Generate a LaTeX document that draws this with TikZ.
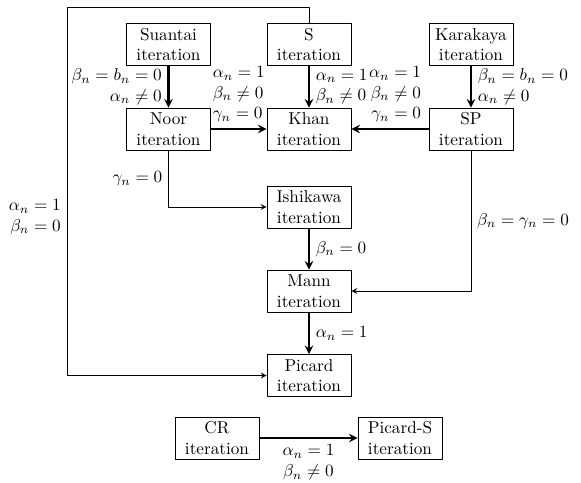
\documentclass[tikz,border=0pt]{standalone}
\usepackage{amsmath}
\begin{document}
\begin{tikzpicture}[x=0.582pt, y=-0.582pt, line join=round, >=stealth,
	iter/.style={draw, align=center, minimum width=49pt, minimum height=24.5pt, inner sep=2pt},
	strong/.style={->, line width=1.2pt},
	weak/.style={->, line width=0.5pt}]
	\useasboundingbox (0,0) rectangle (581,482);
	\node[iter] (suantai)  at (168.5,44.5) {Suantai\\iteration};
	\node[iter] (s)        at (309,44.5)   {S\\iteration};
	\node[iter] (karakaya) at (471,44.5)   {Karakaya\\iteration};
	\node[iter] (noor)     at (168.5,129)  {Noor\\iteration};
	\node[iter] (khan)     at (309,129)    {Khan\\iteration};
	\node[iter] (sp)       at (471,129)    {SP\\iteration};
	\node[iter] (ishikawa) at (309,207)    {Ishikawa\\iteration};
	\node[iter] (mann)     at (309,291)    {Mann\\iteration};
	\node[iter] (picard)   at (309,375.5)  {Picard\\iteration};
	\node[iter] (cr)       at (217,438)    {CR\\iteration};
	\node[iter] (picards)  at (400,438)    {Picard-S\\iteration};
	\coordinate (looptop) at (67,7);
	\draw[strong] (suantai) -- node[left, align=right] {$\beta_n=b_n=0$\\$\alpha_n\neq0$} (noor);
	\draw[strong] (s) -- node[right, align=left] {$\alpha_n=1$\\$\beta_n\neq0$} (khan);
	\draw[strong] (karakaya) -- node[right, align=left] {$\beta_n=b_n=0$\\$\alpha_n\neq0$} (sp);
	\draw[strong] (noor) -- node[above, align=left] {$\alpha_n=1$\\$\beta_n\neq0$\\$\gamma_n=0$} (khan);
	\draw[strong] (sp) -- node[above, align=right, xshift=3pt] {$\alpha_n=1$\\$\beta_n\neq0$\\$\gamma_n=0$} (khan);
	\draw[weak] (noor) |- node[pos=0.25, left] {$\gamma_n=0$} (ishikawa);
	\draw[strong] (ishikawa) -- node[right] {$\beta_n=0$} (mann);
	\draw[weak] (sp) |- node[pos=0.25, right] {$\beta_n=\gamma_n=0$} (mann);
	\draw[strong] (mann) -- node[right] {$\alpha_n=1$} (picard);
	\draw[weak] (s.north) |- (looptop) |- node[pos=0.285, left, align=right] {$\alpha_n=1$\\$\beta_n=0$} (picard);
	\draw[strong] (cr) -- node[below, align=center] {$\alpha_n=1$\\$\beta_n\neq0$} (picards);
\end{tikzpicture}
\end{document}
